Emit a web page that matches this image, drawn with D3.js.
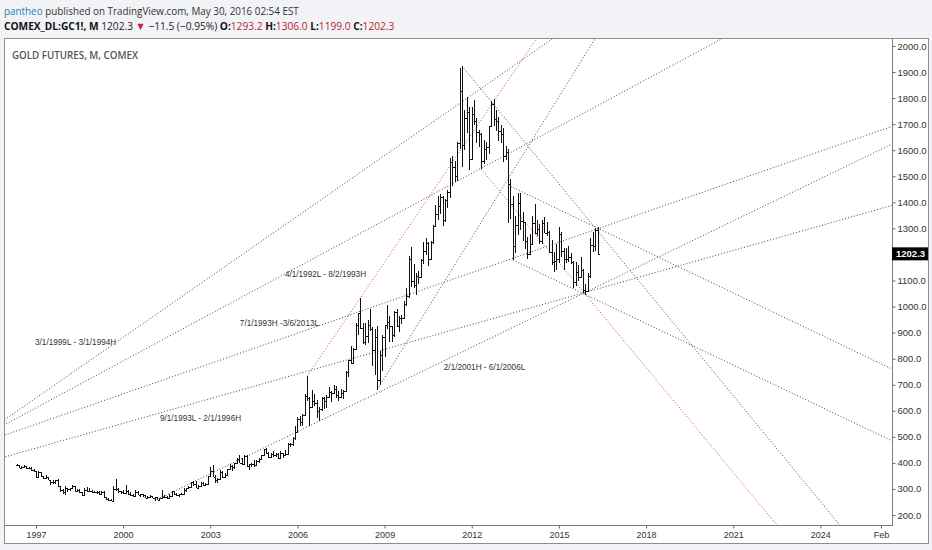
<!DOCTYPE html>
<html>
<head>
<meta charset="utf-8">
<script src="https://cdn.jsdelivr.net/npm/d3@7"></script>
<style>
    html, body { margin: 0; padding: 0; background: #f1f3f6; }
    svg { display: block; }
</style>
</head>
<body>
<svg id="chart" width="932" height="550"></svg>
<script>
// monthly OHLC, first bar is May 1996
const firstMonth = '1996-05-01'

const opens = [
    393, 391, 382, 386, 387, 380, 380, 372,
    369, 345, 364, 349, 341, 345, 335, 327, 325, 333, 312, 297,
    290, 304, 298, 302, 310, 294, 297, 289, 275, 297, 293, 294,
    289, 288, 288, 280, 287, 269, 262, 256, 255, 300, 301, 292,
    289, 284, 294, 280, 275, 273, 290, 278, 279, 275, 266, 270,
    273, 266, 268, 259, 264, 268, 271, 265, 273, 293, 280, 275,
    279, 282, 297, 302, 309, 326, 318, 305, 313, 324, 317, 318,
    348, 368, 347, 335, 337, 364, 346, 355, 375, 388, 386, 398,
    416, 400, 397, 427, 387, 394, 395, 391, 409, 416, 429, 453,
    438, 423, 435, 429, 436, 418, 437, 430, 434, 474, 471, 496,
    518, 570, 557, 585, 656, 649, 615, 638, 628, 601, 608, 649,
    636, 653, 672, 669, 683, 661, 652, 668, 674, 748, 795, 785,
    838, 928, 975, 917, 865, 887, 930, 914, 834, 884, 718, 815,
    884, 928, 942, 924, 891, 979, 927, 955, 955, 1008, 1040, 1182,
    1097, 1081, 1118, 1115, 1180, 1215, 1244, 1181, 1247, 1308, 1357, 1386,
    1421, 1333, 1410, 1439, 1556, 1536, 1500, 1628, 1829, 1620, 1725, 1747,
    1566, 1740, 1711, 1669, 1664, 1560, 1604, 1614, 1692, 1776, 1719, 1713,
    1675, 1663, 1578, 1595, 1472, 1393, 1234, 1313, 1396, 1327, 1323, 1250,
    1202, 1240, 1321, 1284, 1296, 1250, 1322, 1282, 1287, 1210, 1171, 1175,
    1184, 1279, 1213, 1183, 1182, 1190, 1172, 1095, 1132, 1115, 1142, 1065,
    1061, 1117, 1238, 1234, 1293.2
]

const highs = [
    395, 392, 389, 392, 389, 386, 384, 376,
    369, 368, 364, 349, 352, 347, 336, 333, 336, 337, 313, 298,
    310, 305, 305, 316, 310, 300, 298, 290, 302, 307, 302, 297,
    294, 293, 292, 292, 291, 271, 264, 261, 310, 339, 304, 294,
    297, 317, 295, 287, 281, 295, 293, 280, 281, 276, 273, 277,
    274, 271, 269, 266, 296, 276, 272, 281, 294, 294, 285, 282,
    284, 303, 305, 311, 328, 331, 330, 317, 328, 326, 324, 349,
    384, 390, 353, 341, 371, 367, 363, 378, 394, 392, 400, 417,
    429, 418, 431, 430, 397, 400, 411, 410, 419, 432, 455, 457,
    440, 439, 446, 438, 437, 444, 439, 450, 477, 478, 499, 542,
    575, 580, 587, 663, 732, 652, 679, 665, 643, 615, 652, 651,
    660, 690, 675, 699, 694, 675, 685, 680, 751, 795, 848, 842,
    935, 977, 1033, 935, 938, 948, 990, 921, 914, 926, 831, 890,
    930, 1007, 962, 925, 982, 990, 962, 966, 1022, 1072, 1195, 1227,
    1163, 1129, 1135, 1182, 1249, 1265, 1246, 1251, 1313, 1388, 1425, 1432,
    1424, 1414, 1447, 1569, 1577, 1557, 1632, 1917, 1923, 1755, 1804, 1764,
    1764, 1792, 1724, 1676, 1668, 1641, 1633, 1693, 1790, 1798, 1755, 1726,
    1697, 1684, 1617, 1604, 1488, 1424, 1347, 1434, 1434, 1361, 1325, 1267,
    1280, 1346, 1392, 1332, 1315, 1332, 1345, 1324, 1290, 1256, 1208, 1239,
    1307, 1285, 1224, 1224, 1232, 1205, 1175, 1170, 1159, 1191, 1145, 1088,
    1128, 1263, 1287, 1302, 1306.0
]

const lows = [
    389, 380, 379, 384, 378, 378, 369, 366,
    342, 341, 346, 337, 338, 333, 317, 320, 320, 308, 290, 281,
    276, 289, 291, 299, 290, 287, 286, 272, 274, 289, 289, 284,
    283, 282, 277, 279, 267, 257, 252, 253, 253, 293, 286, 281,
    281, 284, 277, 273, 269, 272, 276, 270, 270, 264, 263, 268,
    264, 255, 256, 255, 263, 266, 263, 264, 272, 277, 272, 271,
    277, 281, 287, 299, 307, 313, 302, 299, 312, 311, 313, 316,
    347, 345, 321, 322, 334, 342, 342, 349, 373, 367, 375, 397,
    399, 392, 392, 385, 372, 383, 386, 387, 399, 412, 427, 433,
    419, 418, 423, 423, 414, 415, 417, 429, 434, 461, 464, 489,
    517, 540, 542, 584, 638, 543, 612, 617, 573, 560, 600, 605,
    609, 648, 635, 665, 650, 639, 648, 645, 673, 730, 780, 784,
    834, 889, 914, 856, 853, 860, 906, 771, 737, 681, 700, 753,
    805, 915, 865, 865, 883, 920, 904, 933, 953, 1001, 1033, 1075,
    1072, 1045, 1088, 1114, 1162, 1199, 1155, 1177, 1242, 1307, 1331, 1357,
    1309, 1324, 1380, 1418, 1462, 1478, 1480, 1603, 1535, 1602, 1667, 1523,
    1562, 1695, 1627, 1612, 1527, 1548, 1563, 1584, 1688, 1693, 1673, 1636,
    1626, 1555, 1562, 1321, 1336, 1179, 1207, 1274, 1292, 1251, 1221, 1182,
    1202, 1238, 1277, 1269, 1241, 1240, 1282, 1272, 1205, 1161, 1131, 1142,
    1167, 1192, 1142, 1166, 1170, 1163, 1072, 1080, 1098, 1110, 1052, 1046,
    1061, 1111, 1208, 1212, 1199.0
]

const closes = [
    391, 382, 386, 387, 380, 380, 372, 369,
    345, 364, 349, 341, 345, 335, 327, 325, 333, 312, 297, 290,
    304, 298, 302, 310, 294, 297, 289, 275, 297, 293, 294, 289,
    288, 288, 280, 287, 269, 262, 256, 255, 300, 301, 292, 289,
    284, 294, 280, 275, 273, 290, 278, 279, 275, 266, 270, 273,
    266, 268, 259, 264, 268, 271, 265, 273, 293, 280, 275, 279,
    282, 297, 302, 309, 326, 318, 305, 313, 324, 317, 318, 348,
    368, 347, 335, 337, 364, 346, 355, 375, 388, 386, 398, 416,
    400, 397, 427, 387, 394, 395, 391, 409, 416, 429, 453, 438,
    423, 435, 429, 436, 418, 437, 430, 434, 474, 471, 496, 518,
    570, 557, 585, 656, 649, 615, 638, 628, 601, 608, 649, 636,
    653, 672, 669, 683, 661, 652, 668, 674, 748, 795, 785, 838,
    928, 975, 917, 865, 887, 930, 914, 834, 884, 718, 815, 884,
    928, 942, 924, 891, 979, 927, 955, 955, 1008, 1040, 1182, 1097,
    1081, 1118, 1115, 1180, 1215, 1244, 1181, 1247, 1308, 1357, 1386, 1421,
    1333, 1410, 1439, 1556, 1536, 1500, 1628, 1829, 1620, 1725, 1747, 1566,
    1740, 1711, 1669, 1664, 1560, 1604, 1614, 1692, 1776, 1719, 1713, 1675,
    1663, 1578, 1595, 1472, 1393, 1234, 1313, 1396, 1327, 1323, 1250, 1202,
    1240, 1321, 1284, 1296, 1250, 1322, 1282, 1287, 1210, 1171, 1175, 1184,
    1279, 1213, 1183, 1182, 1190, 1172, 1095, 1132, 1115, 1142, 1065, 1061,
    1117, 1238, 1234, 1293, 1202.3
]

// axis ticks
const priceTicks = [200, 300, 400, 500, 600, 700, 800, 900, 1000, 1100, 1200,
    1300, 1400, 1500, 1600, 1700, 1800, 1900, 2000]
const timeTicks = ['1997-01-01', '2000-01-01', '2003-01-01', '2006-01-01', '2009-01-01',
    '2012-01-01', '2015-01-01', '2018-01-01', '2021-01-01', '2024-01-01', '2026-02-01']
const timeTickLabels = ['1997', '2000', '2003', '2006', '2009', '2012', '2015', '2018', '2021', '2024', 'Feb']

// trendlines: two points each, ray = starts at first point
const grayTrendlines = [
    { from: ['1995-12-07', 566], to: ['2011-08-07', 1781], ray: false },
    { from: ['1995-12-07', 547], to: ['2011-08-07', 1487], ray: false },
    { from: ['1995-12-07', 507], to: ['2026-05-27', 1689], ray: false },
    { from: ['1995-12-07', 423], to: ['2026-05-27', 1386], ray: false },
    { from: ['2001-02-01', 255], to: ['2026-05-27', 1620], ray: true },
    { from: ['2008-10-01', 681], to: ['2016-03-28', 2027], ray: true },
    { from: ['2011-09-01', 1923], to: ['2016-04-01', 1302], ray: true },
    { from: ['2013-04-01', 1466], to: ['2026-05-27', 764], ray: true },
    { from: ['2013-06-01', 1179], to: ['2015-12-01', 1046], ray: true },
]
const redTrendlines = [
    { from: ['2006-05-01', 732], to: ['2008-03-01', 1033], ray: true },
    { from: ['2012-05-01', 1527], to: ['2015-12-01', 1046], ray: true },
]

const notes = [
    { text: '3/1/1999L - 3/1/1994H', at: ['1996-12-20', 852] },
    { text: '4/1/1992L - 8/2/1993H', at: ['2005-07-27', 1113] },
    { text: '7/1/1993H -3/6/2013L', at: ['2004-01-08', 925] },
    { text: '9/1/1993L - 2/1/1996H', at: ['2001-04-08', 561] },
    { text: '2/1/2001H - 6/1/2006L', at: ['2011-01-15', 756] },
]

const lastPrice = 1202.3
const headerQuote = { symbol: 'COMEX_DL:GC1!, M', last: '1202.3', change: '\u221211.5 (\u22120.95%)',
    o: '1293.2', h: '1306.0', l: '1199.0', c: '1202.3' }

const drawChart = () => {
    const svg = d3.select('#chart')
    const plot = { left: 5, right: 892, top: 39, bottom: 525 }
    const parse = d3.timeParse('%Y-%m-%d')
    const axisFont = '"Liberation Sans", Arial, sans-serif'

    // panel
    svg.append('rect')
        .attr('x', 4.5).attr('y', 38.5)
        .attr('width', 924).attr('height', 505)
        .attr('fill', '#fff')
        .attr('stroke', '#8d8d8d')

    // Scales
    const xScale = d3.scaleTime()
        .domain([parse('1997-01-01'), parse('2024-01-01')])
        .range([36, 36 + 27 * 29.05])

    const yScale = d3.scaleLinear()
        .domain([200, 2000])
        .range([515, 46])

    svg.append('defs').append('clipPath').attr('id', 'plotclip')
        .append('rect')
        .attr('x', plot.left).attr('y', plot.top)
        .attr('width', plot.right - plot.left).attr('height', plot.bottom - plot.top)

    const inner = svg.append('g').attr('clip-path', 'url(#plotclip)')

    // Trendlines
    const drawTrend = (t, color) => {
        const x1 = xScale(parse(t.from[0])), y1 = yScale(t.from[1])
        const x2 = xScale(parse(t.to[0])), y2 = yScale(t.to[1])
        const k = (y2 - y1) / (x2 - x1)
        const xs = t.ray ? x1 : plot.left - 20
        const xe = plot.right + 20
        inner.append('line')
            .attr('x1', xs).attr('y1', y1 + k * (xs - x1))
            .attr('x2', xe).attr('y2', y1 + k * (xe - x1))
            .attr('stroke', color)
            .attr('stroke-width', 1)
            .attr('stroke-dasharray', '1,2')
    }
    grayTrendlines.forEach((t) => drawTrend(t, '#444'))
    redTrendlines.forEach((t) => drawTrend(t, '#e0393e'))

    // Bars
    const bars = closes.map((c, i) => ({
        date: d3.timeMonth.offset(parse(firstMonth), i),
        o: opens[i], h: highs[i], l: lows[i], c: c,
    }))

    const groupBars = inner.append('g')
        .attr('stroke', '#111')
        .attr('stroke-width', 1)
        .attr('shape-rendering', 'crispEdges')

    groupBars.selectAll('.hl')
        .data(bars)
        .join('line')
        .attr('class', 'hl')
        .attr('x1', (d) => Math.round(xScale(d.date)) + 0.5)
        .attr('x2', (d) => Math.round(xScale(d.date)) + 0.5)
        .attr('y1', (d) => yScale(d.h))
        .attr('y2', (d) => yScale(d.l))

    groupBars.selectAll('.op')
        .data(bars)
        .join('line')
        .attr('class', 'op')
        .attr('x1', (d) => Math.round(xScale(d.date)) - 1)
        .attr('x2', (d) => Math.round(xScale(d.date)) + 0.5)
        .attr('y1', (d) => Math.round(yScale(d.o)) + 0.5)
        .attr('y2', (d) => Math.round(yScale(d.o)) + 0.5)

    groupBars.selectAll('.cl')
        .data(bars)
        .join('line')
        .attr('class', 'cl')
        .attr('x1', (d) => Math.round(xScale(d.date)) + 0.5)
        .attr('x2', (d) => Math.round(xScale(d.date)) + 2)
        .attr('y1', (d) => Math.round(yScale(d.c)) + 0.5)
        .attr('y2', (d) => Math.round(yScale(d.c)) + 0.5)

    // Notes
    svg.append('g').selectAll('text')
        .data(notes)
        .join('text')
        .attr('x', (d) => xScale(parse(d.at[0])))
        .attr('y', (d) => yScale(d.at[1]))
        .attr('font-family', axisFont)
        .attr('font-size', 8.2)
        .attr('fill', '#333')
        .text((d) => d.text)

    // Frame lines
    svg.append('line')
        .attr('x1', plot.left).attr('x2', plot.right)
        .attr('y1', plot.bottom + 0.5).attr('y2', plot.bottom + 0.5)
        .attr('stroke', '#7d7d7d')
    svg.append('line')
        .attr('x1', plot.right + 0.5).attr('x2', plot.right + 0.5)
        .attr('y1', plot.top).attr('y2', plot.bottom + 1)
        .attr('stroke', '#7d7d7d')

    // Axis
    const yAxis = svg.append('g')
        .attr('transform', `translate(${plot.right + 0.5},0)`)
        .call(d3.axisRight(yScale)
            .tickValues(priceTicks)
            .tickFormat(d3.format('.1f'))
            .tickSize(3)
            .tickPadding(2))
    yAxis.select('.domain').remove()
    yAxis.selectAll('line').attr('stroke', '#666')
    yAxis.selectAll('text')
        .attr('font-family', axisFont)
        .attr('font-size', 9.5)
        .attr('fill', '#333')

    const xAxis = svg.append('g')
        .attr('transform', `translate(0,${plot.bottom + 0.5})`)
        .call(d3.axisBottom(xScale)
            .tickValues(timeTicks.map(parse))
            .tickFormat((d, i) => timeTickLabels[i])
            .tickSize(3)
            .tickPadding(3))
    xAxis.select('.domain').remove()
    xAxis.selectAll('line').attr('stroke', '#666')
    xAxis.selectAll('text')
        .attr('font-family', axisFont)
        .attr('font-size', 9)
        .attr('fill', '#333')

    // last price tag
    svg.append('rect')
        .attr('x', plot.right)
        .attr('y', yScale(lastPrice) - 6.5)
        .attr('width', 36).attr('height', 13)
        .attr('fill', '#000')
    svg.append('text')
        .attr('x', plot.right + 4)
        .attr('y', yScale(lastPrice) + 3.5)
        .attr('font-family', axisFont)
        .attr('font-size', 9.5)
        .attr('font-weight', 'bold')
        .attr('fill', '#fff')
        .text(d3.format('.1f')(lastPrice))

    // chart title
    svg.append('text')
        .attr('x', 12).attr('y', 59)
        .attr('font-family', '"Open Sans", sans-serif')
        .attr('font-size', 10)
        .attr('font-weight', 600)
        .attr('fill', '#555')
        .attr('textLength', 126)
        .attr('lengthAdjust', 'spacingAndGlyphs')
        .text('GOLD FUTURES, M, COMEX')

    // header, squeezed horizontally to the reference widths
    const squeeze = (g, y, width) => {
        const w = g.node().getBBox().width
        g.attr('transform', `translate(4,${y}) scale(${width / w},1)`)
    }

    const g1 = svg.append('g')
    const head1 = g1.append('text')
        .attr('font-family', '"Open Sans", sans-serif')
        .attr('font-size', 11)
    head1.append('tspan').attr('fill', '#2b7bbd').text('pantheo')
    head1.append('tspan').attr('fill', '#333').text(' published on TradingView.com, May 30, 2016 02:54 EST')
    squeeze(g1, 15, 295)

    const g2 = svg.append('g')
    const head2 = g2.append('text')
        .attr('font-family', '"Open Sans", sans-serif')
        .attr('font-size', 11)
        .attr('fill', '#222')
    head2.append('tspan').attr('font-weight', 'bold').attr('fill', '#111').text(headerQuote.symbol)
    head2.append('tspan').text(` ${headerQuote.last} `)
    head2.append('tspan').attr('fill', '#d0202a').text('\u25BC')
    head2.append('tspan').text(` ${headerQuote.change} `)
    const fields = [['O:', headerQuote.o], [' H:', headerQuote.h], [' L:', headerQuote.l], [' C:', headerQuote.c]]
    fields.forEach(([k, v]) => {
        head2.append('tspan').attr('font-weight', 'bold').attr('fill', '#111').text(k)
        head2.append('tspan').attr('fill', '#b8262e').text(v)
    })
    squeeze(g2, 29.5, 391)
}

drawChart()
</script>
</body>
</html>
